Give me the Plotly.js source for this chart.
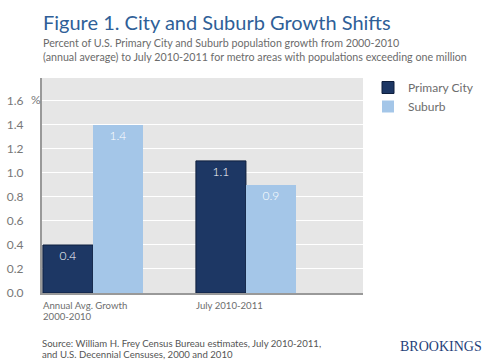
<!DOCTYPE html>
<html>
<head>
<meta charset="utf-8">
<script src="https://cdn.plot.ly/plotly-3.0.1.min.js"></script>
<style>html,body{margin:0;padding:0;background:#fff;}#chart{width:492px;height:363px;}</style>
</head>
<body>
<div id="chart"></div>
<script>
// Data
var categories = ["Annual Avg. Growth 2000-2010", "July 2010-2011"];
var categoryLabelLines = [["Annual Avg. Growth", "2000-2010"], ["July 2010-2011"]];
var primaryCity = [0.4, 1.1];
var suburb = [1.4, 0.9];
var seriesNames = ["Primary City", "Suburb"];
var yTickVals = [0, 0.2, 0.4, 0.6, 0.8, 1.0, 1.2, 1.4, 1.6];
var yTickText = ["0.0", "0.2", "0.4", "0.6", "0.8", "1.0", "1.2", "1.4", "1.6"];

var W = 492, H = 363;
var L = 42, R = 363, T = 78, B = 293;
function px(p){ return (p - L) / (R - L); }
function py(p){ return (B - p) / (B - T); }

var font = "Lato, Open Sans, sans-serif";
var barW = 0.327;

var traces = [
  {
    type: "bar", name: seriesNames[0], x: categories, y: primaryCity,
    width: barW, offset: -barW,
    marker: {color: "#1d3764", line: {color: "#0e1e3c", width: 1}},
    text: primaryCity.map(function(v){return v.toFixed(1);}),
    textposition: "inside", insidetextanchor: "end", textangle: 0,
    textfont: {color: "#ffffff", size: 12, family: font, weight: 300},
    hoverinfo: "none", cliponaxis: false
  },
  {
    type: "bar", name: seriesNames[1], x: categories, y: suburb,
    width: barW, offset: 0,
    marker: {color: "#a4c6e8", line: {width: 0}},
    text: suburb.map(function(v){return v.toFixed(1);}),
    textposition: "inside", insidetextanchor: "end", textangle: 0,
    textfont: {color: "#ffffff", size: 12, family: font, weight: 300},
    hoverinfo: "none", cliponaxis: false
  }
];

var annotations = [
  {text: "Figure 1. City and Suburb Growth Shifts", xref: "paper", yref: "paper",
   x: px(41), y: py(22), xanchor: "left", yanchor: "middle", showarrow: false,
   font: {family: font, size: 20, color: "#2f5f98"}},
  {text: "Percent of U.S. Primary City and Suburb population growth from 2000-2010", xref: "paper", yref: "paper",
   x: px(41), y: py(43), xanchor: "left", yanchor: "middle", showarrow: false,
   font: {family: font, size: 10.7, color: "#6b6b6b"}},
  {text: "(annual average) to July 2010-2011 for metro areas with populations exceeding one million", xref: "paper", yref: "paper",
   x: px(41), y: py(56), xanchor: "left", yanchor: "middle", showarrow: false,
   font: {family: font, size: 10.7, color: "#6b6b6b"}},
  {text: "Source: William H. Frey Census Bureau estimates, July 2010-2011,", xref: "paper", yref: "paper",
   x: px(40), y: py(343), xanchor: "left", yanchor: "middle", showarrow: false,
   font: {family: font, size: 9.6, color: "#555555"}},
  {text: "and U.S. Decennial Censuses, 2000 and 2010", xref: "paper", yref: "paper",
   x: px(40), y: py(354), xanchor: "left", yanchor: "middle", showarrow: false,
   font: {family: font, size: 9.6, color: "#555555"}},
  {text: "BROOKINGS", xref: "paper", yref: "paper",
   x: px(484), y: py(346), xanchor: "right", yanchor: "middle", showarrow: false,
   font: {family: "Liberation Serif, DejaVu Serif, serif", size: 14, color: "#1f3f7a"}},
  {text: "%", xref: "paper", yref: "paper",
   x: px(29), y: py(99), xanchor: "left", yanchor: "middle", showarrow: false,
   font: {family: font, size: 12, color: "#777777"}}
];
categoryLabelLines.forEach(function(lines, i){
  lines.forEach(function(line, j){
    annotations.push({text: line, xref: "x", yref: "paper", x: categories[i], y: py(305 + 11 * j),
      xanchor: "left", yanchor: "middle", align: "left", showarrow: false, xshift: -52,
      font: {family: font, size: 9.6, color: "#6d6d6d"}});
  });
});

var layout = {
  width: W, height: H,
  margin: {l: L, r: W - R, t: T, b: H - B, pad: 0},
  paper_bgcolor: "#ffffff", plot_bgcolor: "#e6e6e6",
  font: {family: font, color: "#777777"},
  showlegend: true,
  legend: {x: px(368), y: py(73), xanchor: "left", yanchor: "top",
           font: {family: font, size: 12, color: "#6d6d6d"}, bgcolor: "rgba(0,0,0,0)",
           itemwidth: 30, tracegroupgap: 0},
  xaxis: {type: "category", range: [-0.333, 1.765], showticklabels: false, ticks: "",
          showgrid: false, zeroline: false, showline: true, linecolor: "#999999", linewidth: 2,
          fixedrange: true},
  yaxis: {range: [0, 1.79], tickvals: yTickVals, ticktext: yTickText, ticks: "",
          showgrid: true, gridcolor: "#ffffff", gridwidth: 1, zeroline: false,
          showline: true, linecolor: "#999999", linewidth: 2, ticklabelstandoff: 14,
          tickfont: {family: font, size: 12, color: "#777777"}, fixedrange: true},
  annotations: annotations,
  bargap: 0
};

Plotly.newPlot("chart", traces, layout, {displayModeBar: false, staticPlot: true});
</script>
</body>
</html>
